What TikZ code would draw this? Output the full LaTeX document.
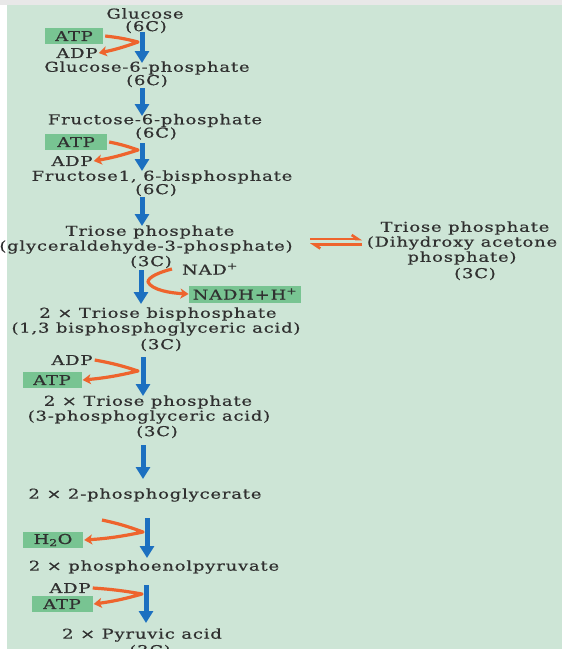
\documentclass[tikz,border=0pt]{standalone}
\usepackage{fontspec}
\setmainfont{DejaVu Serif}[FakeStretch=1.32, LetterSpace=6, FakeBold=0.6]
\usetikzlibrary{arrows.meta}
\definecolor{bgc}{RGB}{205,229,214}
\definecolor{flowc}{RGB}{28,112,192}
\definecolor{sidec}{RGB}{238,100,45}
\definecolor{boxc}{RGB}{120,196,146}
\definecolor{txtc}{RGB}{48,48,48}
\tikzset{
  lbl/.style={text=txtc, inner sep=0pt, font=\fontsize{13.6}{15}\selectfont},
  gbox/.style={lbl, fill=boxc, inner xsep=4pt, inner ysep=2pt, minimum height=16pt},
  flow/.style={draw=flowc, line width=5pt, -{Triangle[width=14pt,length=12pt]}},
  side/.style={draw=sidec, line width=3.2pt, line join=round, -{Stealth[width=10pt,length=8pt,inset=2pt]}},
  eqa/.style={draw=sidec, line width=2.6pt, -{Straight Barb[harpoon,length=6pt,width=8pt]}}
}
\begin{document}
\begin{tikzpicture}[x=1pt,y=-1pt]
\useasboundingbox (0,0) rectangle (562,649);
\fill[white] (0,0) rectangle (562,649);
\fill[gray!18] (0,0) rectangle (562,5);
\fill[bgc] (7,5) rectangle (562,649);

% main column
\node[lbl] (glc) at (145,13.5) {Glucose};
\node[lbl] (glc6c) at (146,27) {(6C)};
\node[gbox, minimum width=58pt] (atp1) at (74,36) {ATP};
\node[lbl] (adp1) at (77,53) {ADP};
\node[lbl] (g6p) at (147,68) {Glucose-6-phosphate};
\node[lbl] (g6p6c) at (147,81) {(6C)};
\node[lbl] (f6p) at (155,120.5) {Fructose-6-phosphate};
\node[lbl] (f6p6c) at (156,133.5) {(6C)};
\node[gbox, minimum width=62pt] (atp2) at (76,142) {ATP};
\node[lbl] (adp2) at (72,161) {ADP};
\node[lbl] (fbp) at (162,177) {Fructose1, 6-bisphosphate};
\node[lbl] (fbp6c) at (156,190) {(6C)};
\node[lbl] (g3p) at (150,232) {Triose phosphate};
\node[lbl] (g3pb) at (146,247) {(glyceraldehyde-3-phosphate)};
\node[lbl] (g3p3c) at (151,262) {(3C)};
\node[lbl] (nad) at (210,269) {NAD\textsuperscript{+}};
\node[gbox, minimum width=100pt, minimum height=17pt] (nadh) at (245,294) {NADH+H\textsuperscript{+}};
\node[lbl] (dhap) at (465,228) {Triose phosphate};
\node[lbl] (dhapb) at (462,243) {(Dihydroxy acetone};
\node[lbl] (dhapc) at (462,258) {phosphate)};
\node[lbl] (dhap3c) at (475,274) {(3C)};
\node[lbl] (tbp) at (158,314) {2 × Triose bisphosphate};
\node[lbl] (tbpb) at (156,329) {(1,3 bisphosphoglyceric acid)};
\node[lbl] (tbp3c) at (161,345) {(3C)};
\node[lbl] (adp3) at (72,360) {ADP};
\node[gbox, minimum width=59pt] (atp3) at (52,380) {ATP};
\node[lbl] (pga) at (148,402) {2 × Triose phosphate};
\node[lbl] (pgab) at (149,417) {(3-phosphoglyceric acid)};
\node[lbl] (pga3c) at (157,432) {(3C)};
\node[lbl] (pg2) at (145,495) {2 × 2-phosphoglycerate};
\node[gbox, minimum width=60pt] (h2o) at (53,540) {H\textsubscript{2}O};
\node[lbl] (pep) at (154,567) {2 × phosphoenolpyruvate};
\node[lbl] (adp4) at (70,588) {ADP};
\node[gbox, minimum width=61pt] (atp4) at (62,604) {ATP};
\node[lbl] (pyr) at (142,635) {2 × Pyruvic acid};
\node[lbl] (pyr3c) at (150,651) {(3C)};

% blue flow arrows
\coordinate (f1a) at (142,32);  \coordinate (f1b) at (142,63);
\coordinate (f2a) at (142,88);  \coordinate (f2b) at (142,116);
\coordinate (f3a) at (142,143); \coordinate (f3b) at (142,171);
\coordinate (f4a) at (142,197); \coordinate (f4b) at (142,226);
\coordinate (f5a) at (141,270); \coordinate (f5b) at (141,304);
\coordinate (f6a) at (143,357); \coordinate (f6b) at (143,396);
\coordinate (f7a) at (143,445); \coordinate (f7b) at (143,479);
\coordinate (f8a) at (147,518); \coordinate (f8b) at (147,558);
\coordinate (f9a) at (146,585); \coordinate (f9b) at (146,623);
\foreach \i in {1,...,9} { \draw[flow] (f\i a) -- (f\i b); }

% orange side arrows
\coordinate (v1) at (138,42);
\draw[side] ([xshift=2pt]atp1.east) to[bend left=4] (v1) to[bend left=4] ([xshift=1pt]adp1.east);
\coordinate (v2) at (138,150);
\draw[side] ([xshift=2pt]atp2.east) to[bend left=4] (v2) to[bend left=4] ([xshift=1pt]adp2.east);
\coordinate (v3) at (138,371);
\draw[side] ([xshift=2pt]adp3.east) to[bend left=4] (v3) to[bend left=4] ([xshift=1pt]atp3.east);
\coordinate (s4) at (102,520);
\coordinate (v4) at (143,532);
\draw[side] (s4) to[bend left=4] (v4) to[bend left=4] ([xshift=1pt]h2o.east);
\coordinate (v5) at (142,594);
\draw[side] ([xshift=2pt]adp4.east) to[bend left=3] (v5) to[bend left=4] ([xshift=1pt]atp4.east);
\coordinate (vn) at (148,282);
\draw[side] ([xshift=-10pt]nad.west) .. controls (160,272) and (148,277) .. (vn) .. controls (152,290) and (170,293) .. (nadh.west);

% equilibrium arrows
\coordinate (eqL) at (310,239);
\coordinate (eqR) at (362,239);
\coordinate (eqL2) at (310,244.5);
\coordinate (eqR2) at (362,244.5);
\draw[eqa] (eqL) -- (eqR);
\draw[eqa] (eqR2) -- (eqL2);
\end{tikzpicture}
\end{document}
